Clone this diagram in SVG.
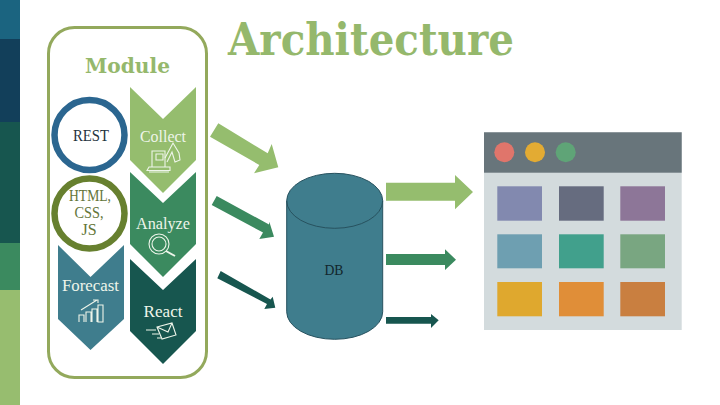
<svg xmlns="http://www.w3.org/2000/svg" width="720" height="405" viewBox="0 0 720 405">
<style>
.t{font-family:"DejaVu Serif","Liberation Serif",serif;text-anchor:middle}
.l{font-family:"Liberation Serif","DejaVu Serif",serif;text-anchor:middle}
.w{fill:#eef5ea;font-size:16px}
.i{fill:none;stroke:#eef5ea;stroke-width:1.1}
</style>
<rect width="720" height="405" fill="#fff"/>
<g id="sidebar">
<rect width="20" height="39" fill="#1b6480"/>
<rect y="39" width="20" height="83" fill="#123f5a"/>
<rect y="122" width="20" height="121" fill="#17564f"/>
<rect y="243" width="20" height="47" fill="#3b8a5f"/>
<rect y="290" width="20" height="115" fill="#97bd6f"/>
</g>
<text class="t" x="371" y="55" font-size="44" font-weight="bold" fill="#95b86c" textLength="286" lengthAdjust="spacingAndGlyphs">Architecture</text>
<g id="module">
<rect x="48.500" y="27.500" width="158" height="350" rx="26" fill="#fff" stroke="#93a95c" stroke-width="3"/>
<text class="t" x="127.500" y="73" font-size="21" font-weight="bold" fill="#95b86c" textLength="85" lengthAdjust="spacingAndGlyphs">Module</text>
</g>
<g id="rest">
<circle cx="89.500" cy="135" r="35" fill="#fff" stroke="#2b6690" stroke-width="6.500"/>
<text class="l" x="91" y="141" font-size="16" fill="#1f3340" textLength="36" lengthAdjust="spacingAndGlyphs">REST</text>
</g>
<g id="html">
<circle cx="89.500" cy="213.500" r="35" fill="#fff" stroke="#67802f" stroke-width="6.500"/>
<text class="l" x="90" y="200.500" font-size="16" fill="#64763a" textLength="42" lengthAdjust="spacingAndGlyphs">HTML,</text>
<text class="l" x="89" y="218" font-size="16" fill="#64763a" textLength="29" lengthAdjust="spacingAndGlyphs">CSS,</text>
<text class="l" x="89" y="235" font-size="16" fill="#64763a">JS</text>
</g>
<g id="collect">
<polygon points="130,87 163,119 196,87 196,160 163,193 130,160" fill="#95bd6e"/>
<text class="l w" x="163" y="141.500" textLength="46" lengthAdjust="spacingAndGlyphs">Collect</text>
<g class="i">
<path d="M149 172H169M147 170.500L149 167H170V170.500Z"/>
<path d="M152 167V151H165V167M156 154H163V160H156Z"/>
<path d="M165 158L173 143L179 153L180 160L175 162L172 152L167 162"/>
</g>
</g>
<g id="analyze">
<polygon points="130,172 163,203 196,172 196,244 163,277 130,244" fill="#3b8a5f"/>
<text class="l w" x="163" y="228.500" textLength="54" lengthAdjust="spacingAndGlyphs">Analyze</text>
<g class="i">
<circle cx="159" cy="244" r="10"/>
<circle cx="159" cy="244" r="7"/>
<path d="M166 251L175 256" stroke-width="2"/>
</g>
</g>
<g id="forecast">
<polygon points="58,245 90.500,277 124,245 124,319 90.500,350 58,319" fill="#3f7d8d"/>
<text class="l w" x="90.500" y="290.500" textLength="57" lengthAdjust="spacingAndGlyphs">Forecast</text>
<g class="i">
<path d="M79 322V315H84V322M86 322V312H91V322M92 322V309H97V322M98 322V305H103V322Z"/>
<path d="M81 310L97 300M93 300H98V303"/>
</g>
</g>
<g id="react">
<polygon points="130,259 163,290 196,259 196,331 163,364 130,331" fill="#17564f"/>
<text class="l w" x="163" y="316.500" textLength="39" lengthAdjust="spacingAndGlyphs">React</text>
<g class="i">
<path d="M157 327L172 323L176 335L162 339ZM157 327L168 332L172 323"/>
<path d="M146 330H156M152 334H159M157 338H161"/>
</g>
</g>
<g id="connectors">
<polygon points="210,136.700 218.300,123.300 267.700,153.300 271.700,144 278.300,167.300 254,173.300 259.300,165" fill="#95bd6e"/>
<polygon points="211.700,205 216.700,196 269,224.500 269.300,221.700 274,236.700 259.300,239 263,232.500" fill="#3b8a5f"/>
<polygon points="217.300,278.300 220.700,271 270.500,299.500 272.700,296.700 275.300,307.700 264.300,309 267,304" fill="#17564f"/>
<polygon points="386,182.700 455,182.700 455,175 473,192 455,209.300 455,200.700 386,200.700" fill="#95bd6e"/>
<polygon points="386,254 445,254 445,249.300 456,259.700 445,270 445,265 386,265" fill="#3b8a5f"/>
<polygon points="386,317 431,317 431,314 438.700,320.300 431,328 431,323.700 386,323.700" fill="#17564f"/>
</g>
<g id="db">
<path d="M286.700 200.800A48 27.500 0 0 1 382.700 200.800V311.800A48 27.500 0 0 1 286.700 311.800Z" fill="#3f7d8d" stroke="#27525f"/>
<path d="M286.700 200.800A48 27.500 0 0 0 382.700 200.800" fill="none" stroke="#27525f"/>
<text class="l" x="334" y="275" font-size="15" fill="#12262c" textLength="19" lengthAdjust="spacingAndGlyphs">DB</text>
</g>
<g id="window">
<rect x="484" y="132.300" width="197.700" height="197.700" fill="#d3dbdd"/>
<rect x="484" y="132.300" width="197.700" height="40.400" fill="#68757b"/>
<circle cx="504.300" cy="152.300" r="10" fill="#e0756b"/>
<circle cx="535" cy="152.300" r="10" fill="#e3ab33"/>
<circle cx="565.700" cy="152.300" r="10" fill="#5fa477"/>
<rect x="497.300" y="186.300" width="44.700" height="34.400" fill="#8289af"/>
<rect x="559" y="186.300" width="44.700" height="34.400" fill="#666c7f"/>
<rect x="620.300" y="186.300" width="44.700" height="34.400" fill="#8d7698"/>
<rect x="497.300" y="234.300" width="44.700" height="34" fill="#6e9fb1"/>
<rect x="559" y="234.300" width="44.700" height="34" fill="#41a08c"/>
<rect x="620.300" y="234.300" width="44.700" height="34" fill="#79a681"/>
<rect x="497.300" y="282" width="44.700" height="34.300" fill="#dfa82e"/>
<rect x="559" y="282" width="44.700" height="34.300" fill="#e08e38"/>
<rect x="620.300" y="282" width="44.700" height="34.300" fill="#c97f40"/>
</g>
</svg>
